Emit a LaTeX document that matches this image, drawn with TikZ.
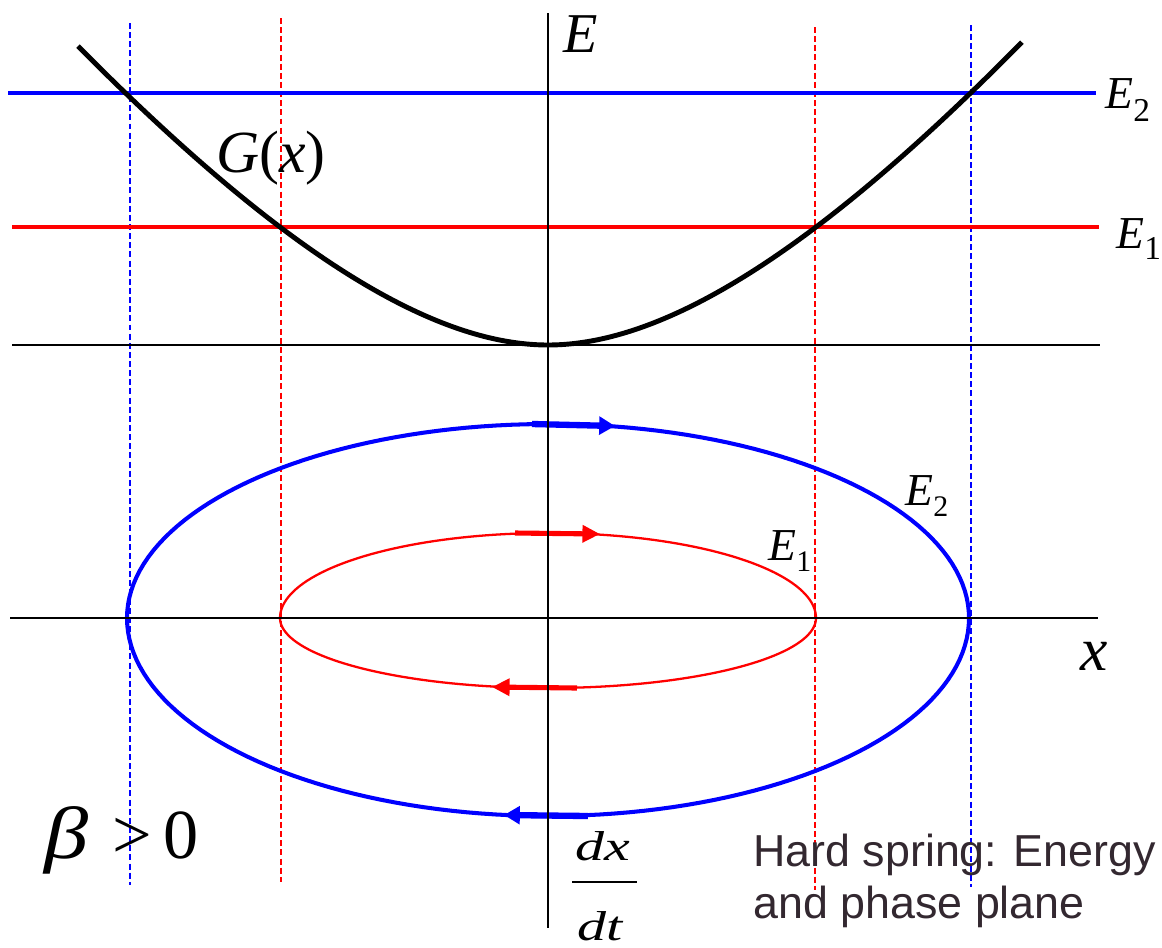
\documentclass[tikz,border=0pt]{standalone}
\usepackage{fontspec}
\setmainfont{Liberation Serif}
\newfontfamily\capfont{Liberation Sans}
\usetikzlibrary{arrows.meta}
\definecolor{pblue}{RGB}{0,0,255}
\definecolor{pred}{RGB}{255,0,0}
\definecolor{captxt}{RGB}{51,40,48}
\newcommand\fsz[1]{\fontsize{#1}{#1}\selectfont}
\begin{document}
\begin{tikzpicture}[x=0.02cm,y=-0.02cm,
  guide/.style={line width=0.75pt, dash pattern=on 3.4pt off 1.8pt},
  axisline/.style={line width=1.3pt, black},
  level/.style={line width=1.9pt},
  gcurve/.style={line width=2.8pt, black},
  orbitB/.style={line width=2.3pt, pblue},
  orbitR/.style={line width=1.3pt, pred},
  arrB/.style={line width=3.6pt, pblue, -{Triangle[length=9pt,width=10pt]}},
  arrR/.style={line width=2.9pt, pred, -{Triangle[length=10pt,width=9.5pt]}},
  lbl/.style={inner sep=0pt, anchor=base west},
  captext/.style={inner sep=0pt, anchor=base west, font={\capfont\fsz{25.5}}, text=captxt}
]
\useasboundingbox (0,0) rectangle (1162,947);

% dashed guides
\draw[guide,pblue] (130,23) -- (130,885);
\draw[guide,pred] (281,18) -- (281,882);
\draw[guide,pred] (815,27) -- (815,890);
\draw[guide,pblue] (971,25) -- (971,887);

% energy levels
\draw[level,pblue] (8,93) -- (1096,93);
\draw[level,pred] (12,227) -- (1099,227);

% upper axis
\draw[axisline] (12,345) -- (1100,345);

% potential G(x)
\draw[gcurve] plot[domain=-4.70:4.74, samples=201] ({548+100*\x},{345-22.94*\x*\x/(1+0.148*abs(\x))});

% phase orbits
\draw[orbitB] plot[domain=0:180,samples=90] ({548+421*cos(\x)},{618-194*sin(\x)}) -- plot[domain=180:360,samples=90] ({548+421*cos(\x)},{618-198*sin(\x)}) -- cycle;
\draw[orbitR] plot[domain=0:180,samples=90] ({548+268*cos(\x)},{618-85*sin(\x)}) -- plot[domain=180:360,samples=90] ({548+268*cos(\x)},{618-70*sin(\x)}) -- cycle;

% direction arrows
\draw[arrB] (532,424) -- (615,426);
\draw[arrB] (588,816) -- (504,815);
\draw[arrR] (515,533) -- (600,534);
\draw[arrR] (577,688) -- (492,687);

% lower axis and vertical axis
\draw[axisline] (10,618) -- (1098,618);
\draw[axisline] (548,13) -- (548,928);

% labels
\node[lbl] (Etop) at (563,52) {\fsz{32}\textit{E}};
\node[lbl] (E2r) at (1105,108) {\fsz{26}\textit{E}\raisebox{-7.4pt}{\fsz{19}2}};
\node[lbl] (E1r) at (1116,248) {\fsz{26}\textit{E}\raisebox{-6.8pt}{\fsz{19}1}};
\node[lbl] (Gx) at (216,172) {\fsz{34}\textit{G}(\textit{x})};
\node[lbl] (E2o) at (905,505) {\fsz{26}\textit{E}\raisebox{-6.5pt}{\fsz{17}2}};
\node[lbl] (E1o) at (768,560) {\fsz{26}\textit{E}\raisebox{-6.5pt}{\fsz{17}1}};
\node[lbl] (xl) at (1080,670) {\fsz{35}\textit{x}};
\node[lbl] (beta) at (44,858) {\fsz{42}\scalebox{1.2}[1]{\textit{β}}};
\node[lbl] (gt) at (112,858) {\fsz{40}>};
\node[lbl] (zero) at (163,858) {\fsz{40}0};

% dx/dt
\node[lbl] (dxn) at (575,860) {\fsz{33}\scalebox{1}[0.72]{\textit{dx}}};
\node[lbl] (dtn) at (577,940) {\fsz{33}\scalebox{1}[0.72]{\textit{dt}}};
\draw[line width=1.5pt] (572,882) -- (637,882);

% caption
\node[captext] (cap1) at (753,866) {Hard spring: Energy};
\node[captext] (cap2) at (753,918) {and phase plane};
\end{tikzpicture}
\end{document}
